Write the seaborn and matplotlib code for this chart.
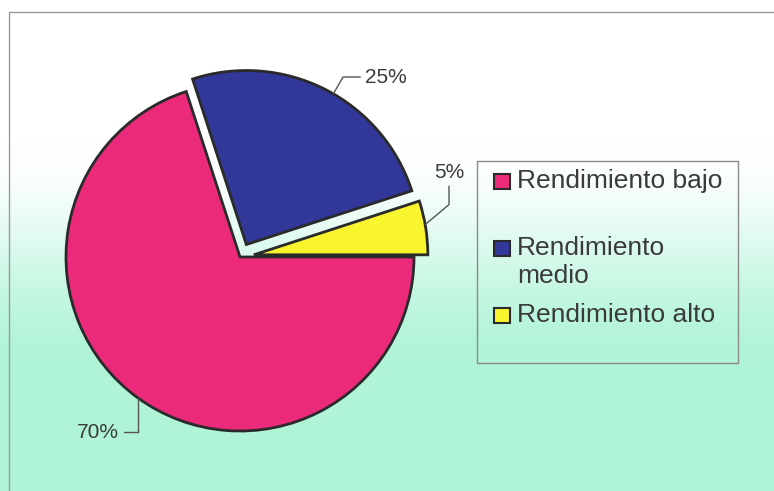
import numpy as np
import matplotlib
matplotlib.use("Agg")
import matplotlib.pyplot as plt
from matplotlib.patches import Rectangle
import seaborn as sns

# ---- data ----
categories = ["Rendimiento bajo", "Rendimiento\nmedio", "Rendimiento alto"]
values = [70, 25, 5]          # percent
pct_labels = ["70%", "25%", "5%"]
colors = ["#ec2a7c", "#31389a", "#f8f42e"]

sns.set_theme(style="white")
plt.rcParams["font.family"] = ["Liberation Sans", "DejaVu Sans"]
palette = sns.color_palette(colors)

W, H = 774, 491
fig = plt.figure(figsize=(W / 100, H / 100), dpi=100)

# ---- background (gradient + border), pixel coords with y down ----
bg = fig.add_axes([0, 0, 1, 1])
bg.set_xlim(0, W)
bg.set_ylim(H, 0)
bg.axis("off")
yy = np.arange(H)
t = np.clip((yy - 140) / 230.0, 0, 1)
t = t * t * (3 - 2 * t)
top = np.array([1.0, 1.0, 1.0])
bot = np.array([176, 244, 216]) / 255.0
grad = top[None, :] * (1 - t[:, None]) + bot[None, :] * t[:, None]
bg.imshow(grad[:, None, :], extent=(0, W, H, 0), aspect="auto", zorder=0)
bg.add_patch(Rectangle((9, 12), 770, 485, fill=False, edgecolor="#9a9a9a", lw=1.0, zorder=1))

# ---- pie, pixel coords with y up ----
ax = fig.add_axes([0, 0, 1, 1])
ax.patch.set_alpha(0)
cx, cy, R = 240, H - 257, 174
order = [2, 1, 0]  # draw alto, medio, bajo counter-clockwise from 0 deg
pie_vals = [values[i] for i in order]
pie_cols = [palette[i] for i in order]
wedges, _ = ax.pie(pie_vals, colors=pie_cols, startangle=0, counterclock=True,
                   center=(cx, cy), radius=R, explode=[14, 14, 0],
                   wedgeprops=dict(edgecolor="#2a2a2a", linewidth=2.0))
ax.set_xlim(0, W)
ax.set_ylim(0, H)
ax.set_aspect("auto")
ax.axis("off")

# ---- percentage labels with leader lines ----
def edge_point(w, ang):
    c = w.center
    return (c[0] + w.r * np.cos(np.radians(ang)), c[1] + w.r * np.sin(np.radians(ang)))

w_alto, w_medio, w_bajo = wedges
lab_kw = dict(fontsize=15, color="#3a3a3a", va="center")
line_kw = dict(arrowstyle="-", color="#555555", lw=1.0, shrinkA=1, shrinkB=0)

ax.annotate(pct_labels[1], xy=edge_point(w_medio, 60), xytext=(365, H - 77), ha="left",
            arrowprops=dict(connectionstyle="angle,angleA=0,angleB=60,rad=0", **line_kw), **lab_kw)
ax.annotate(pct_labels[2], xy=edge_point(w_alto, 10), xytext=(449, H - 172), ha="center",
            arrowprops=dict(connectionstyle="angle,angleA=90,angleB=40,rad=0", **line_kw), **lab_kw)
ax.annotate(pct_labels[0], xy=edge_point(w_bajo, 234), xytext=(98, H - 432), ha="center",
            arrowprops=dict(connectionstyle="angle,angleA=0,angleB=90,rad=0", **line_kw), **lab_kw)

# ---- legend (drawn as a boxed key) ----
bg.add_patch(Rectangle((477, 161), 261, 202, fill=False, edgecolor="#8a8a8a", lw=1.0, zorder=3))
rows_y = [181, 248, 315]
for i, (lab, yc) in enumerate(zip(categories, rows_y)):
    bg.add_patch(Rectangle((494, yc - 7.5), 16, 15, facecolor=palette[i],
                           edgecolor="#2a2a2a", lw=1.5, zorder=4))
    bg.text(517, yc - 12, lab, fontsize=19, color="#3a3a3a", ha="left", va="top",
            linespacing=1.2, zorder=4)

fig.savefig("out.png", dpi=100)
